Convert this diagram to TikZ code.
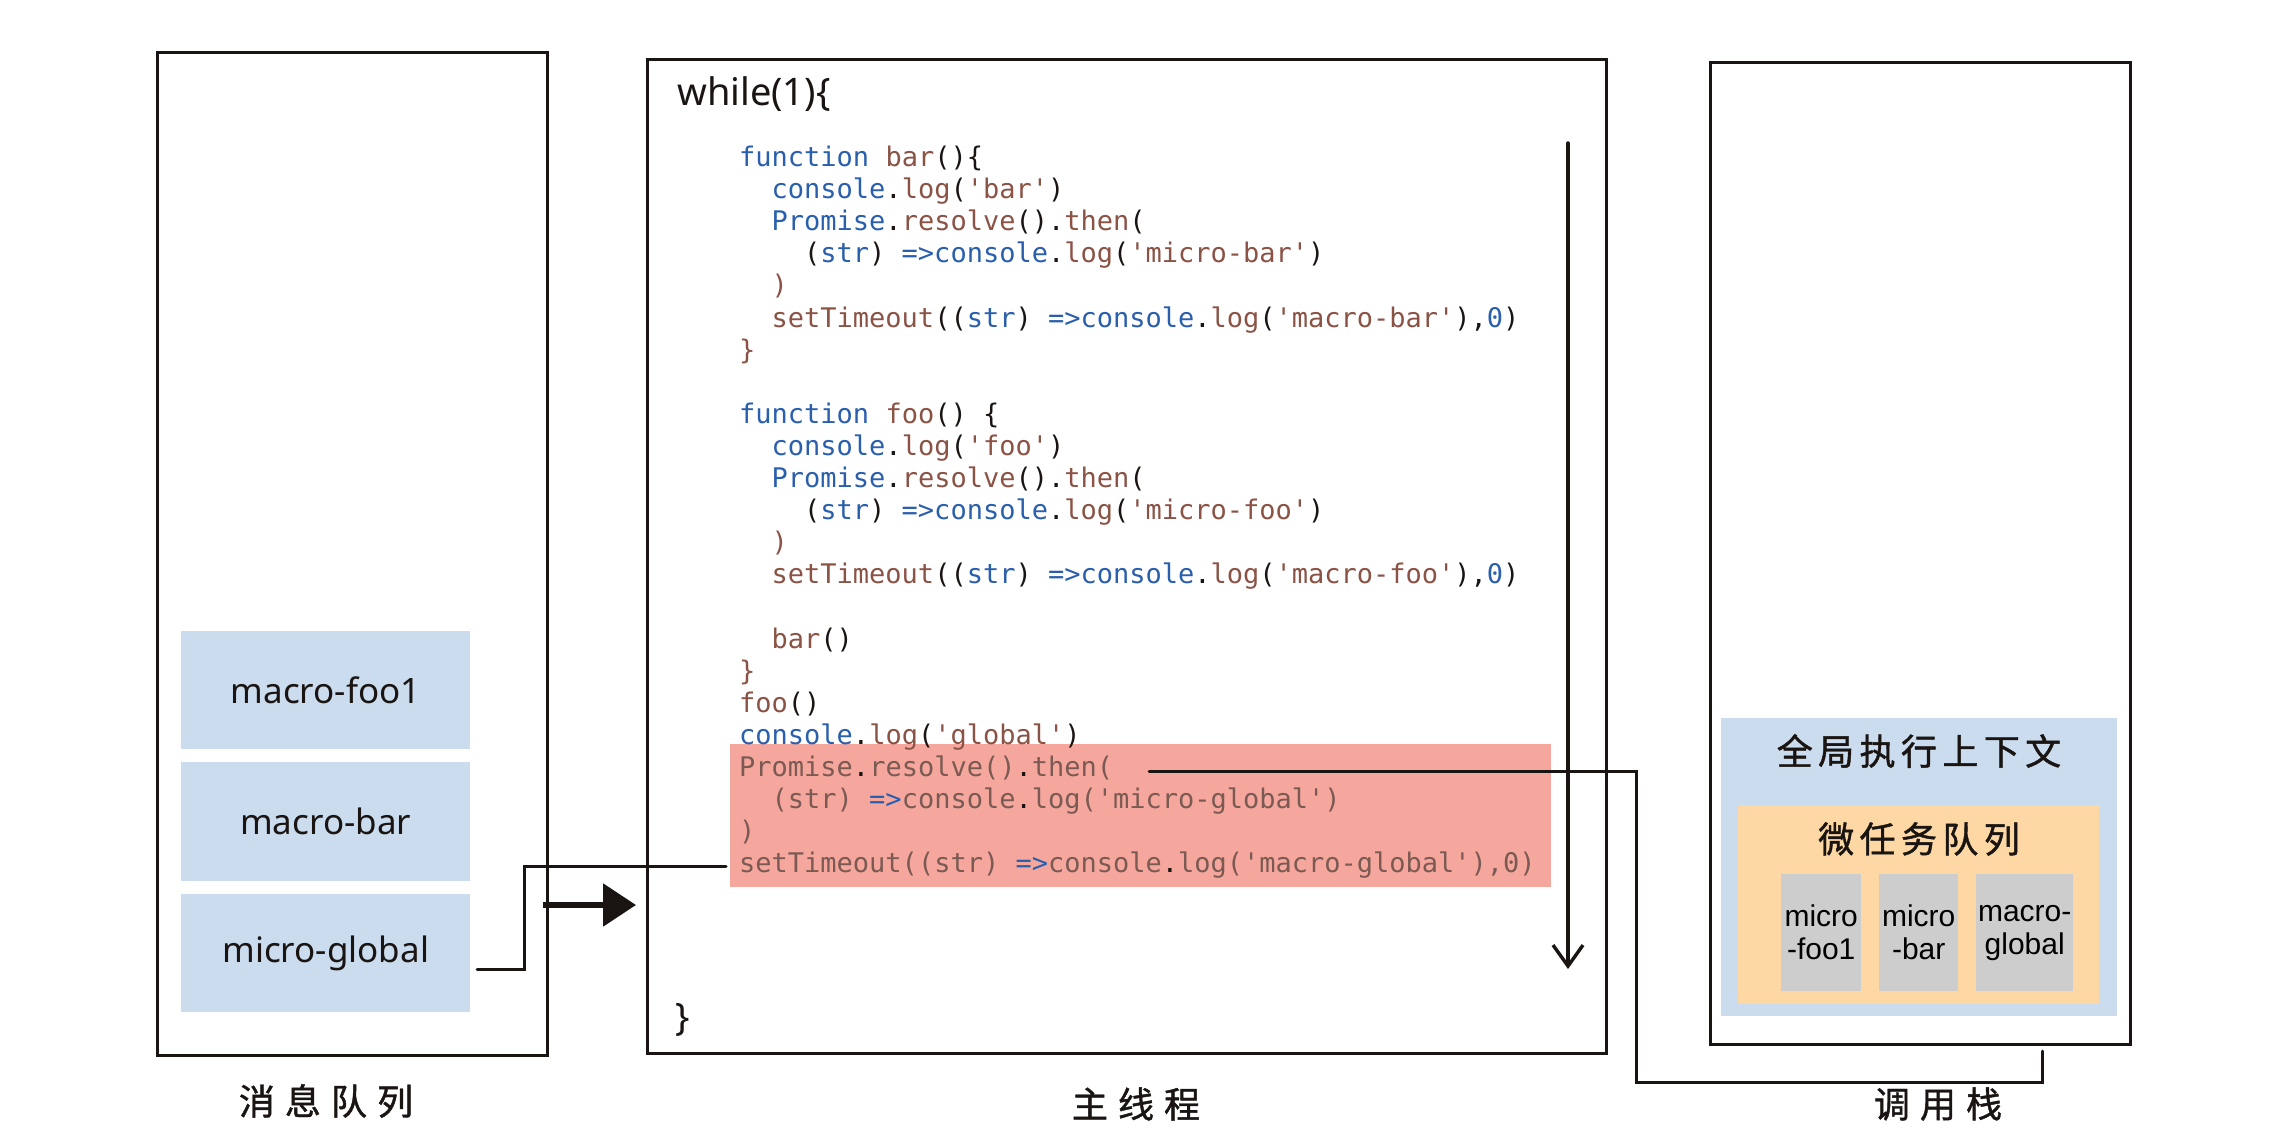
\documentclass[tikz,border=0pt]{standalone}
\usepackage{fontspec}
\setmainfont{Noto Sans}
\setmonofont{DejaVu Sans Mono}
\newfontfamily\cjkA[LetterSpace=28,FakeBold=1.2]{Noto Sans CJK SC}
\newfontfamily\cjkB[LetterSpace=15,FakeBold=1.2]{Noto Sans CJK SC}
\newfontfamily\arialf{Liberation Sans}
\usetikzlibrary{arrows.meta}
\definecolor{kb}{HTML}{2A5FAE}
\definecolor{kr}{HTML}{8B5346}
\definecolor{kg}{HTML}{7A5A52}
\definecolor{ink}{HTML}{1A1512}
\definecolor{hl}{HTML}{F6A79D}
\definecolor{lb}{HTML}{CADCEE}
\definecolor{orng}{HTML}{FDD8A5}
\definecolor{gry}{HTML}{CDCDCD}
\newcommand\codef{\ttfamily\fontsize{27}{32}\selectfont}
\newcommand\handf{\rmfamily\fontsize{35}{40}\selectfont}
\newcommand\kwb[1]{\textcolor{kb}{#1}}
\newcommand\kwr[1]{\textcolor{kr}{#1}}
\newcommand\kwg[1]{\textcolor{kg}{#1}}
\begin{document}
\begin{tikzpicture}[x=1pt,y=-1pt,
  frame/.style={draw=ink,line width=2.8pt,inner sep=0,anchor=north west},
  qbox/.style={fill=lb,inner sep=0,anchor=north west,font=\handf,text=ink},
  gbox/.style={fill=gry,inner sep=0,anchor=north west,align=center,text=black,
    font=\arialf\fontsize{30}{33}\selectfont},
  code/.style={anchor=base west,inner sep=0,font=\codef,text=ink},
  conn/.style={draw=ink,line width=3pt,line cap=round},
  capA/.style={inner sep=0,text=ink,font=\cjkA\fontsize{36}{36}\selectfont},
  capB/.style={inner sep=0,text=ink,font=\cjkB\fontsize{36}{36}\selectfont},
]
\useasboundingbox (0,0) rectangle (2284,1143);
\fill[white] (0,0) rectangle (2284,1143);

% highlight
\node[fill=hl,inner sep=0,anchor=north west,minimum width=821,minimum height=143] (hlbox) at (730,744) {};

% frames
\node[frame,minimum width=390,minimum height=1003] (mq) at (156,51) {};
\node[frame,minimum width=959,minimum height=994] (mt) at (646,58) {};
\node[frame,minimum width=420,minimum height=982] (cs) at (1709,61) {};

% message queue items
\node[qbox,minimum width=289,minimum height=118] (q1) at (181,631) {macro-foo1};
\node[qbox,minimum width=289,minimum height=119] (q2) at (181,762) {macro-bar};
\node[qbox,minimum width=289,minimum height=118] (q3) at (181,894) {micro-global};

% labels
\node[capA] (l1) at (326,1101) {消息队列};
\node[capA] (l2) at (1136,1104) {主线程};
\node[capA] (l3) at (1938,1104) {调用栈};

% call stack contents
\node[fill=lb,inner sep=0,anchor=north west,minimum width=396,minimum height=298] (gctx) at (1721,718) {};
\node[capB] (gctxt) at (1919,751) {全局执行上下文};
\node[fill=orng,inner sep=0,anchor=north west,minimum width=361,minimum height=199] (mq2) at (1738,805) {};
\node[capB] (mqt) at (1919,839) {微任务队列};
\node[gbox,minimum width=80,minimum height=117] (g1) at (1781,874) {micro\\-foo1};
\node[gbox,minimum width=79,minimum height=117] (g2) at (1879,874) {micro\\-bar};
\node[gbox,minimum width=97,minimum height=117] (g3) at (1976,874) {macro-\\global};

% code
\node[anchor=base west,inner sep=0,text=ink,font=\rmfamily\fontsize{38}{40}\selectfont] (wh) at (677,105) {while(1)\{};
\node[anchor=base west,inner sep=0,text=ink,font=\rmfamily\fontsize{38}{40}\selectfont] (whend) at (675,1030) {\}};

\node[code] (c1) at (739,166.5) {\kwb{function} \kwr{bar}()\{};
\node[code] (c2) at (771.5,198.6) {\kwb{console}.\kwr{log}(\kwr{'bar'})};
\node[code] (c3) at (771.5,230.7) {\kwb{Promise}.\kwr{resolve}().\kwr{then}(};
\node[code] (c4) at (804,262.8) {(\kwb{str}) \kwb{=>console}.\kwr{log}(\kwr{'micro-bar'})};
\node[code] (c5) at (771.5,294.9) {\kwr{)}};
\node[code] (c6) at (771.5,327) {\kwr{setTimeout}((\kwb{str}) \kwb{=>console}.\kwr{log}(\kwr{'macro-bar'}),\kwb{0})};
\node[code] (c7) at (739,359.1) {\kwr{\}}};
\node[code] (c9) at (739,423.3) {\kwb{function} \kwr{foo}() \{};
\node[code] (c10) at (771.5,455.4) {\kwb{console}.\kwr{log}(\kwr{'foo'})};
\node[code] (c11) at (771.5,487.5) {\kwb{Promise}.\kwr{resolve}().\kwr{then}(};
\node[code] (c12) at (804,519.6) {(\kwb{str}) \kwb{=>console}.\kwr{log}(\kwr{'micro-foo'})};
\node[code] (c13) at (771.5,551.7) {\kwr{)}};
\node[code] (c14) at (771.5,583.8) {\kwr{setTimeout}((\kwb{str}) \kwb{=>console}.\kwr{log}(\kwr{'macro-foo'}),\kwb{0})};
\node[code] (c16) at (771.5,648) {\kwr{bar}()};
\node[code] (c17) at (739,680.1) {\kwr{\}}};
\node[code] (c18) at (739,712.2) {\kwr{foo}()};
\node[code] (c19) at (739,744.3) {\kwb{console}.\kwr{log}(\kwr{'global'})};
\node[code] (c20) at (739,776.4) {\kwg{Promise}.\kwg{resolve()}.\kwg{then(}};
\node[code] (c21) at (771.5,808.5) {\kwg{(str)} \kwb{=>}\kwg{console}.\kwg{log('micro-global')}};
\node[code] (c22) at (739,840.6) {\kwg{)}};
\node[code] (c23) at (739,872.7) {\kwg{setTimeout((str)} \kwb{=>}\kwg{console}.\kwg{log('macro-global'),0)}};

% down arrow (execution order)
\coordinate (dtop) at (1568,143);
\coordinate (dbot) at (1568,969);
\draw[draw=ink,line width=3.4pt,line cap=round,-{Straight Barb[length=21pt,width=30pt]}] (dtop) -- (dbot);

% thick arrow into main thread
\coordinate (thA) at (543,905);
\coordinate (thB) at (636,905);
\draw[draw=ink,line width=5.5pt,-{Triangle[length=33pt,width=42pt]}] (thA) -- (thB);

% micro-global -> setTimeout line
\coordinate (mgout) at (477,969);
\coordinate (mgturn) at (524,969);
\coordinate (stin) at (726,866);
\draw[conn] (mgout) -- (mgturn) |- (stin);

% then( -> call stack
\coordinate (thenout) at (1149,771);
\coordinate (cturn) at (1636,1082);
\coordinate (csend) at (2042,1051);
\draw[conn] (thenout) -| (cturn) -| (csend);
\end{tikzpicture}
\end{document}
